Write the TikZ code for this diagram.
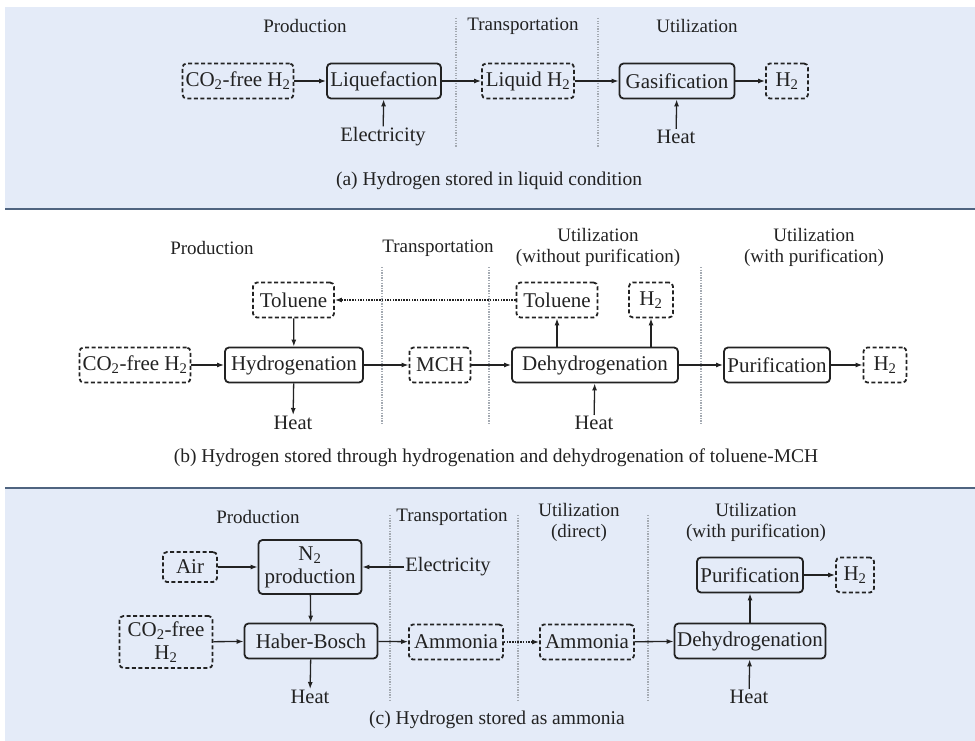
\documentclass[tikz,border=0pt]{standalone}
\usepackage{fontspec}
\setmainfont{Liberation Serif}
\usepackage{tikz}
\usetikzlibrary{positioning,arrows.meta,calc}
\definecolor{panel}{HTML}{E4EBF8}
\definecolor{sepblue}{HTML}{4F6480}
\definecolor{ink}{HTML}{222222}
\definecolor{divgray}{HTML}{A4AAB2}
\tikzset{
  proc/.style ={rectangle, rounded corners=4pt, draw=ink, text=ink, line width=1.8pt, minimum height=35pt, inner sep=1pt, font=\fontsize{21}{23}\selectfont, align=center},
  ext/.style  ={proc, dash pattern=on 4pt off 2.5pt},
  lbl/.style  ={inner sep=1pt, text=ink, font=\fontsize{20.5}{23}\selectfont},
  phase/.style={text=ink, font=\fontsize{19}{21}\selectfont, align=center},
  captext/.style={text=ink, font=\fontsize{19.5}{22}\selectfont},
  flow/.style ={draw=ink, line width=1.3pt, -{Latex[length=7pt,width=5pt]}},
  retflow/.style={flow, dash pattern=on 1.5pt off 1.2pt},
  divider/.style={draw=divgray, line width=1.3pt, dash pattern=on 1.3pt off 1.3pt},
  panelrule/.style={draw=sepblue, line width=2pt},
}

\begin{document}
\begin{tikzpicture}[x=1pt,y=-1pt]
\useasboundingbox (0,0) rectangle (975,741);
\fill[panel] (5,7) rectangle (975,208);
\fill[panel] (5,489) rectangle (975,741);
\draw[panelrule] (5,209) -- (975,209);
\draw[panelrule] (5,488) -- (975,488);

% (a) liquid hydrogen
\node[phase] (a_prod) at (305,26) {Production};
\node[phase] (a_trans) at (523,26) {Transportation};
\node[phase] (a_util) at (697,26) {Utilization};
\draw[divider] (456,18) -- (456,147);
\draw[divider] (598,18) -- (598,147);
\node[ext, minimum width=111pt] (a_src) at (238,81) {CO\textsubscript{2}-free H\textsubscript{2}};
\node[proc, minimum width=114pt] (a_liq) at (384,81) {Liquefaction};
\node[lbl] (a_elec) at (383,137) {Electricity};
\node[ext, minimum width=92pt] (a_lh2) at (528,81) {Liquid H\textsubscript{2}};
\node[proc, minimum width=115pt] (a_gas) at (677,81) {Gasification};
\node[lbl] (a_heat) at (676,137) {Heat};
\node[ext, minimum width=42pt] (a_h2) at (787,81) {H\textsubscript{2}};
\draw[flow] (a_src) -- (a_liq);
\draw[flow] (a_liq) -- (a_lh2);
\draw[flow] (a_lh2) -- (a_gas);
\draw[flow] (a_gas) -- (a_h2);
\draw[flow] (a_elec) -- (a_liq);
\draw[flow] (a_heat) -- (a_gas);
\node[captext] (a_cap) at (489,181) {(a) Hydrogen stored in liquid condition};

% (b) toluene-MCH
\node[phase] (b_prod) at (212,248) {Production};
\node[phase] (b_trans) at (438,248) {Transportation};
\node[phase] (b_utilA) at (598,247) {Utilization\\(without purification)};
\node[phase] (b_utilB) at (814,247) {Utilization\\(with purification)};
\draw[divider] (382,267) -- (382,425);
\draw[divider] (489,267) -- (489,425);
\draw[divider] (701,267) -- (701,425);
\node[ext, minimum width=81pt] (b_tolA) at (293.5,300) {Toluene};
\node[ext, minimum width=111pt] (b_src) at (135,365) {CO\textsubscript{2}-free H\textsubscript{2}};
\node[proc, minimum width=138pt] (b_hyd) at (294,365) {Hydrogenation};
\node[lbl] (b_heatA) at (293,423) {Heat};
\node[ext, minimum width=61pt] (b_mch) at (440,365) {MCH};
\node[proc, minimum width=166pt] (b_dehyd) at (595,365) {Dehydrogenation};
\node[ext, minimum width=81pt] (b_tolB) at (557,300) {Toluene};
\node[ext, minimum width=44pt] (b_h2A) at (651,300) {H\textsubscript{2}};
\node[lbl] (b_heatB) at (594,423) {Heat};
\node[proc, minimum width=106pt] (b_pur) at (777,365) {Purification};
\node[ext, minimum width=43pt] (b_h2B) at (885,365) {H\textsubscript{2}};
\draw[flow] (b_src) -- (b_hyd);
\draw[flow] (b_tolA) -- (b_hyd);
\draw[flow] (b_hyd) -- (b_heatA);
\draw[flow] (b_hyd) -- (b_mch);
\draw[flow] (b_mch) -- (b_dehyd);
\draw[flow] (b_tolB.south |- b_dehyd.north) -- (b_tolB);
\draw[flow] (b_h2A.south |- b_dehyd.north) -- (b_h2A);
\draw[flow] (b_heatB) -- (b_dehyd);
\draw[flow] (b_dehyd) -- (b_pur);
\draw[flow] (b_pur) -- (b_h2B);
\draw[retflow] (b_tolB) -- (b_tolA);
\node[captext] (b_cap) at (496,458) {(b) Hydrogen stored through hydrogenation and dehydrogenation of toluene-MCH};

% (c) ammonia
\node[phase] (c_prod) at (258,517) {Production};
\node[phase] (c_trans) at (452,517) {Transportation};
\node[phase] (c_utilA) at (579,522) {Utilization\\(direct)};
\node[phase] (c_utilB) at (756,522) {Utilization\\(with purification)};
\draw[divider] (390,515) -- (390,702);
\draw[divider] (518,515) -- (518,702);
\draw[divider] (648,515) -- (648,702);
\node[ext, minimum width=54pt, minimum height=30pt] (c_air) at (190,567) {Air};
\node[proc, minimum width=103pt, minimum height=54pt] (c_n2) at (310,567) {N\textsubscript{2}\\production};
\node[lbl] (c_elec) at (448,567) {Electricity};
\node[ext, minimum width=93pt, minimum height=52pt] (c_src) at (166,642) {CO\textsubscript{2}-free\\H\textsubscript{2}};
\node[proc, minimum width=133pt] (c_hb) at (311,641) {Haber-Bosch};
\node[lbl] (c_heatA) at (310,697) {Heat};
\node[ext, minimum width=94pt] (c_amA) at (456,642) {Ammonia};
\node[ext, minimum width=94pt] (c_amB) at (587,642) {Ammonia};
\node[proc, minimum width=151pt] (c_dehyd) at (750,641) {Dehydrogenation};
\node[proc, minimum width=106pt] (c_pur) at (750,575) {Purification};
\node[ext, minimum width=38pt] (c_h2) at (855,575) {H\textsubscript{2}};
\node[lbl] (c_heatB) at (749,697) {Heat};
\draw[flow] (c_air) -- (c_n2);
\draw[flow] (c_elec) -- (c_n2);
\draw[flow] (c_n2) -- (c_hb);
\draw[flow] (c_src) -- (c_hb);
\draw[flow] (c_hb) -- (c_heatA);
\draw[flow] (c_hb) -- (c_amA);
\draw[retflow] (c_amA) -- (c_amB);
\draw[flow] (c_amB) -- (c_dehyd);
\draw[flow] (c_dehyd) -- (c_pur);
\draw[flow] (c_pur) -- (c_h2);
\draw[flow] (c_heatB) -- (c_dehyd);
\node[captext] (c_cap) at (497,720) {(c) Hydrogen stored as ammonia};

\end{tikzpicture}
\end{document}
